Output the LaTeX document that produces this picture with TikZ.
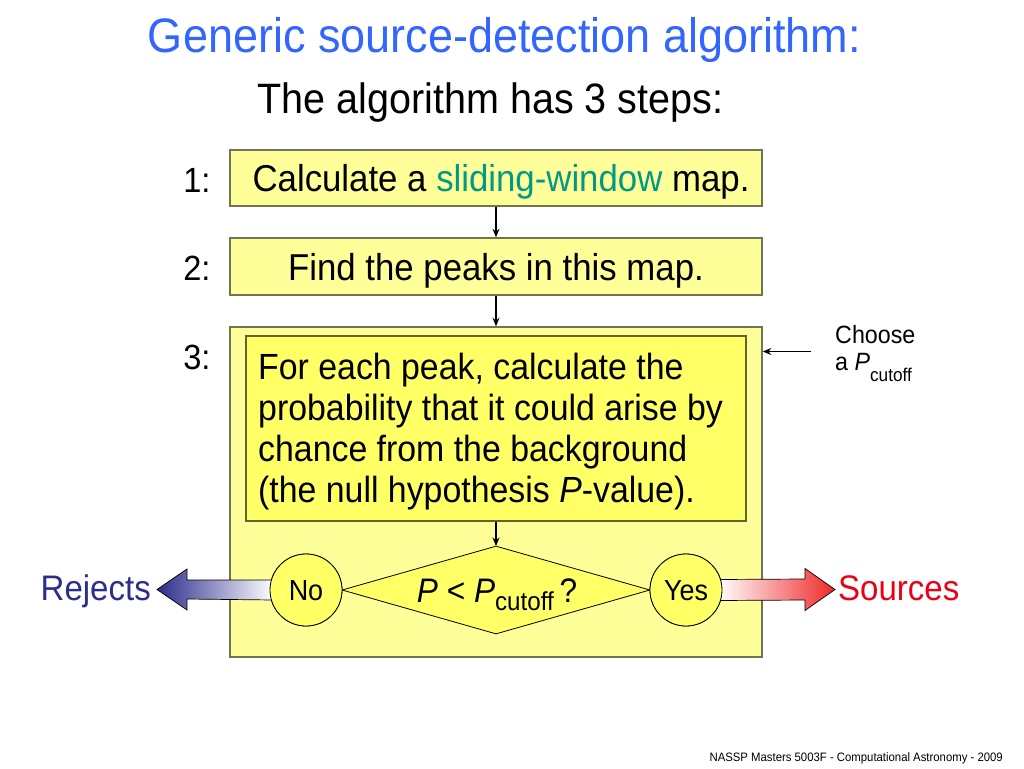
\documentclass[tikz,border=0pt]{standalone}
\usepackage{fontspec}
\setmainfont[FakeStretch=0.93]{Liberation Sans}
\usetikzlibrary{shapes.geometric,arrows.meta,calc}
\definecolor{titleblue}{RGB}{51,102,255}
\definecolor{outerfill}{RGB}{255,255,153}
\definecolor{innerfill}{RGB}{255,255,102}
\definecolor{outerline}{RGB}{115,115,80}
\definecolor{innerline}{RGB}{100,100,40}
\definecolor{slidecol}{RGB}{0,153,136}
\definecolor{rejblue}{RGB}{45,45,140}
\definecolor{srcred}{RGB}{235,0,20}
\definecolor{tipred}{RGB}{240,40,40}
\tikzset{
  stepbox/.style={draw=outerline, fill=outerfill, line width=1.5pt, minimum width=532pt, inner sep=0pt,
    font=\fontsize{37.4}{44}\selectfont, text height=27pt, text depth=0pt},
  outerbox/.style={draw=outerline, fill=outerfill, line width=1.5pt, inner sep=0pt},
  innerbox/.style={draw=innerline, fill=innerfill, line width=1.5pt, inner sep=0pt},
  bodytext/.style={anchor=west, align=left, inner sep=0pt, font=\fontsize{36.4}{41}\selectfont},
  circ/.style={circle, draw=black, fill=innerfill, line width=0.8pt, minimum size=72pt, inner sep=0pt,
    font=\fontsize{29}{30}\selectfont, text height=20pt, text depth=0pt},
  decision/.style={diamond, draw=black, fill=innerfill, line width=0.8pt, minimum width=308pt,
    minimum height=88pt, inner sep=0pt},
  conn/.style={draw=black, line width=1.1pt, -{Stealth[length=8.5pt,width=7pt]}},
  numlab/.style={anchor=base east, font=\fontsize{35}{40}\selectfont},
  fatarrow/.style={draw=black, line width=0.7pt}
}
\begin{document}
\begin{tikzpicture}[x=1pt,y=-1pt]
\fill[white] (0,0) rectangle (1024,768);
\useasboundingbox (0,0) rectangle (1024,768);

% titles
\node[anchor=base, text=titleblue, font=\fontsize{48.4}{56}\selectfont, inner sep=0pt] (title) at (504.5,52.7) {Generic source-detection algorithm:};
\node[anchor=base, font=\fontsize{42.5}{50}\selectfont, inner sep=0pt] (subtitle) at (490.5,113.3) {The algorithm has 3 steps:};

% step boxes
\node[stepbox, minimum height=56pt] (b1) at (496,178) {\hspace*{10pt}Calculate a \textcolor{slidecol}{sliding-window} map.};
\node[stepbox, minimum height=57pt] (b2) at (496,266.5) {Find the peaks in this map.};
\node[outerbox, minimum width=532pt, minimum height=330pt] (s3) at (496,492) {};
\node[innerbox, minimum width=500pt, minimum height=185pt] (inner) at (496,428.5) {};
\node[bodytext] (innertext) at (258,432)
  {For each peak, calculate the\\probability that it could arise by\\chance from the background\\(the null hypothesis \textit{P}-value).};

% step numbers
\node[numlab] (n1) at (214,192) {1:};
\node[numlab] (n2) at (214,280.5) {2:};
\node[numlab] (n3) at (214,369) {3:};

% connectors
\draw[conn] (b1.south) -- (b2.north);
\draw[conn] (b2.south) -- (s3.north);
\draw[conn] (inner.south) -- (496,546);

% Choose P_cutoff
\node[anchor=north west, align=left, inner sep=0pt, font=\fontsize{25}{27}\selectfont] (choose) at (835,324.8)
  {Choose\\a \textit{P}\raisebox{-11pt}{\fontsize{18.5}{20}\selectfont cutoff}};
\coordinate (chstart) at (811,351.5);
\draw[conn] (chstart) -- (s3.east |- chstart);

% fat arrows (behind circles)
\coordinate (rejtip) at (157,589.5);
\coordinate (srctip) at (835,589.5);
\node[circ] (no) at (306,590) {};
\node[circ] (yes) at (686,590) {};
\shade[fatarrow, left color=rejblue, right color=white]
  ($(no.west)+(4,-10)$) -- ($(rejtip)+(30,-9.5)$) -- ($(rejtip)+(30,-20.5)$) -- (rejtip)
  -- ($(rejtip)+(30,20.5)$) -- ($(rejtip)+(30,9.5)$) -- ($(no.west)+(4,10)$) -- cycle;
\shade[fatarrow, left color=white, right color=tipred]
  ($(yes.east)+(-4,-10.5)$) -- ($(srctip)+(-30,-10.5)$) -- ($(srctip)+(-30,-21)$) -- (srctip)
  -- ($(srctip)+(-30,21)$) -- ($(srctip)+(-30,10.5)$) -- ($(yes.east)+(-4,10.5)$) -- cycle;

% decision
\node[decision] (dia) at (496,590) {};
\node[anchor=base, inner sep=0pt, font=\fontsize{34}{38}\selectfont] (diatext) at (497,602)
  {\textit{P} < \textit{P}\raisebox{-8pt}{\fontsize{26}{28}\selectfont cutoff}\,?};
\node[circ] (no2) at (no) {No};
\node[circ] (yes2) at (yes) {Yes};

% outcome labels
\node[anchor=base east, inner sep=0pt, text=rejblue, font=\fontsize{35.5}{40}\selectfont] (rej) at (151,600) {Rejects};
\node[anchor=base west, inner sep=0pt, text=srcred, font=\fontsize{35.5}{40}\selectfont] (src) at (838,600) {Sources};

% footer
\node[anchor=base east, inner sep=0pt, font=\fontsize{12.2}{14}\selectfont] (foot) at (1003,761) {NASSP Masters 5003F - Computational Astronomy - 2009};
\end{tikzpicture}
\end{document}
